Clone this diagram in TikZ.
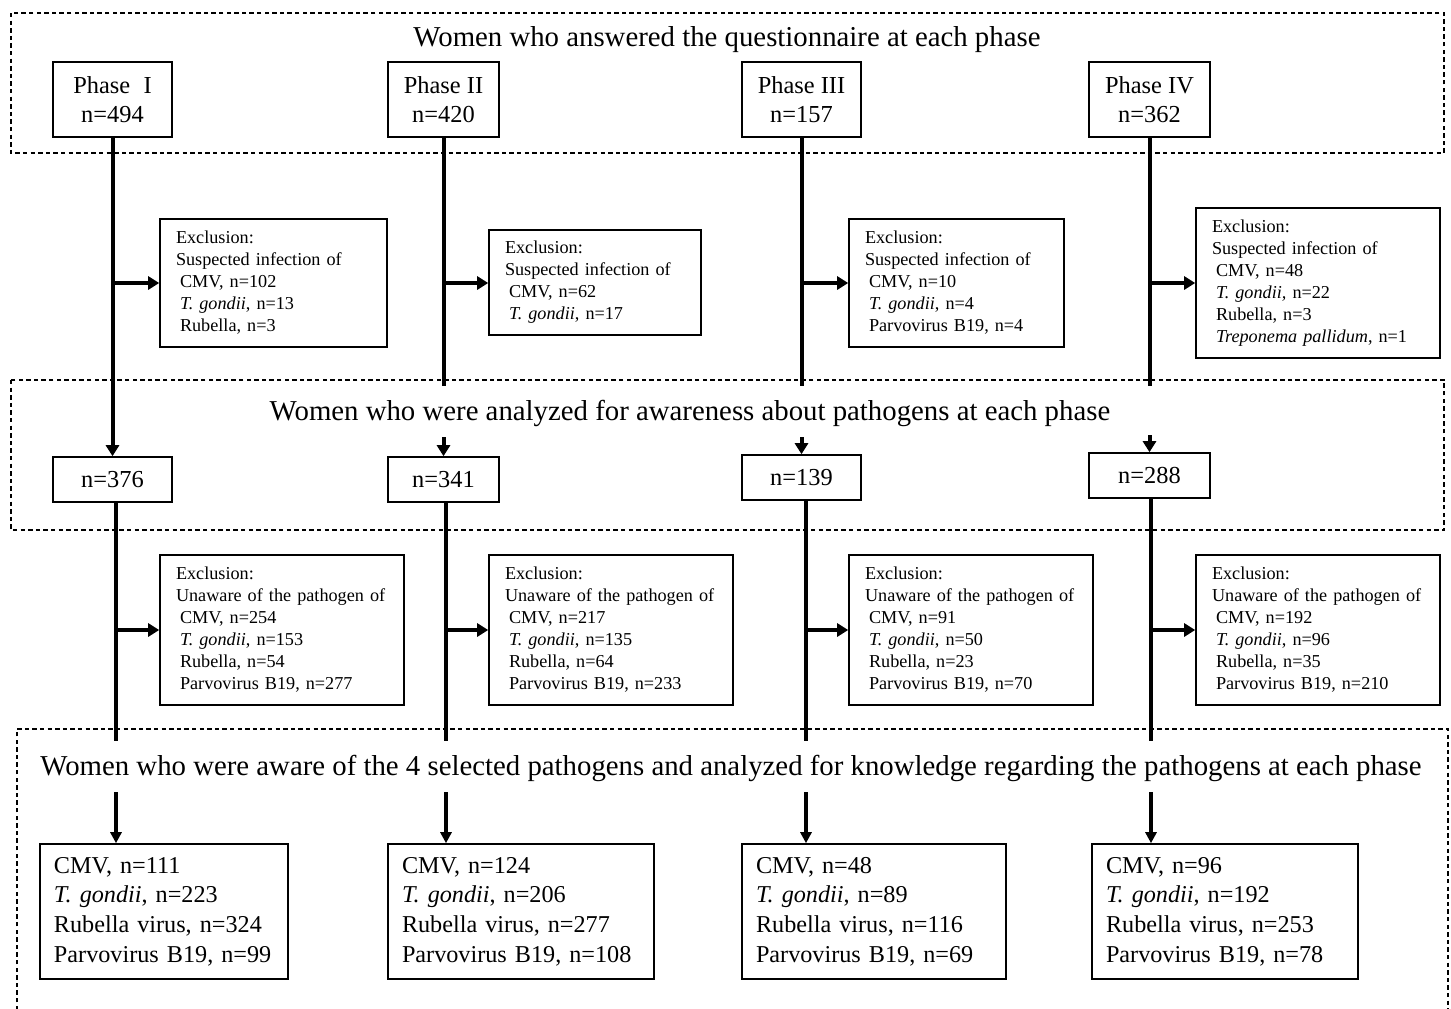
\documentclass[tikz,border=0pt]{standalone}
\usepackage{fontspec}
\setmainfont{Liberation Serif}
\usetikzlibrary{arrows.meta}
\newcommand{\ml}[1]{\mbox{#1}}
\begin{document}
\begin{tikzpicture}[x=0.5pt,y=-0.5pt,
  frame/.style={draw,dash pattern=on 2.2pt off 1.6pt,line width=0.6pt},
  title/.style={font=\fontsize{14.4}{17}\selectfont,inner sep=0pt},
  phasebox/.style={draw,line width=0.8pt,minimum height=37.5pt,align=center,font=\fontsize{12.2}{14.5}\selectfont,inner sep=0pt},
  nbox/.style={draw,line width=0.8pt,minimum height=22.5pt,align=center,font=\fontsize{12.2}{14.5}\selectfont,inner sep=0pt},
  exbox/.style={draw,line width=0.8pt,align=left,font=\fontsize{9.1}{11}\selectfont,inner xsep=8pt,inner ysep=0pt},
  resbox/.style={draw,line width=0.8pt,align=left,font=\fontsize{12.1}{14.8}\selectfont,inner xsep=7pt,inner ysep=0pt,minimum height=67.5pt},
  vline/.style={line width=2pt},
  arr/.style={line width=2pt,-{Triangle[length=5.5pt,width=6.5pt]}},
  arrthin/.style={line width=1.6pt,-{Triangle[length=5.5pt,width=5.5pt]}}
]
\useasboundingbox (0,0) rectangle (1451,1008);

% dashed frames
\draw[frame] (11,13) rectangle (1444,153);
\draw[frame] (11,380) rectangle (1444,530);
\draw[frame] (17,1010) -- (17,729) -- (1448,729) -- (1448,1010);

% titles
\node[title] (t1) at (727,40) {Women who answered the questionnaire at each phase};
\node[title] (t2) at (690,413) {Women who were analyzed for awareness about pathogens at each phase};
\node[title] (t3) at (731,768) {Women who were aware of the 4 selected pathogens and analyzed for knowledge regarding the pathogens at each phase};

% phase boxes
\node[phasebox,minimum width=59.5pt] (p1) at (112.5,99.5) {Phase\hspace{0.55em}I\\n=494};
\node[phasebox,minimum width=55.5pt] (p2) at (443.5,99.5) {Phase II\\n=420};
\node[phasebox,minimum width=59.5pt] (p3) at (801.5,99.5) {Phase III\\n=157};
\node[phasebox,minimum width=60.5pt] (p4) at (1149.5,99.5) {Phase IV\\n=362};

% exclusion boxes row 1
\node[exbox,text width=97.5pt,minimum height=64pt] (e1) at (273.5,283) {\ml{Exclusion:}\\\ml{Suspected infection of}\\\ml{\hspace*{2pt}CMV, n=102}\\\ml{\hspace*{2pt}\textit{T. gondii}, n=13}\\\ml{\hspace*{2pt}Rubella, n=3}};
\node[exbox,text width=90pt,minimum height=52.5pt] (e2) at (595,282.5) {\ml{Exclusion:}\\\ml{Suspected infection of}\\\ml{\hspace*{2pt}CMV, n=62}\\\ml{\hspace*{2pt}\textit{T. gondii}, n=17}};
\node[exbox,text width=91.5pt,minimum height=64pt] (e3) at (956.5,283) {\ml{Exclusion:}\\\ml{Suspected infection of}\\\ml{\hspace*{2pt}CMV, n=10}\\\ml{\hspace*{2pt}\textit{T. gondii}, n=4}\\\ml{\hspace*{2pt}Parvovirus B19, n=4}};
\node[exbox,text width=106pt,minimum height=75pt] (e4) at (1318,283) {\ml{Exclusion:}\\\ml{Suspected infection of}\\\ml{\hspace*{2pt}CMV, n=48}\\\ml{\hspace*{2pt}\textit{T. gondii,} n=22}\\\ml{\hspace*{2pt}Rubella, n=3}\\\ml{\hspace*{2pt}\textit{Treponema pallidum}, n=1}};

% n boxes row 2
\node[nbox,minimum width=59.5pt] (n1) at (112.5,479.5) {n=376};
\node[nbox,minimum width=55.5pt] (n2) at (443.5,479.5) {n=341};
\node[nbox,minimum width=59.5pt] (n3) at (801.5,477.5) {n=139};
\node[nbox,minimum width=60.5pt] (n4) at (1149.5,475.5) {n=288};

% exclusion boxes row 2
\node[exbox,text width=106pt,minimum height=75pt] (e5) at (282,630) {\ml{Exclusion:}\\\ml{Unaware of the pathogen of}\\\ml{\hspace*{2pt}CMV, n=254}\\\ml{\hspace*{2pt}\textit{T. gondii}, n=153}\\\ml{\hspace*{2pt}Rubella, n=54}\\\ml{\hspace*{2pt}Parvovirus B19, n=277}};
\node[exbox,text width=106pt,minimum height=75pt] (e6) at (611,630) {\ml{Exclusion:}\\\ml{Unaware of the pathogen of}\\\ml{\hspace*{2pt}CMV, n=217}\\\ml{\hspace*{2pt}\textit{T. gondii}, n=135}\\\ml{\hspace*{2pt}Rubella, n=64}\\\ml{\hspace*{2pt}Parvovirus B19, n=233}};
\node[exbox,text width=106pt,minimum height=75pt] (e7) at (971,630) {\ml{Exclusion:}\\\ml{Unaware of the pathogen of}\\\ml{\hspace*{2pt}CMV, n=91}\\\ml{\hspace*{2pt}\textit{T. gondii}, n=50}\\\ml{\hspace*{2pt}Rubella, n=23}\\\ml{\hspace*{2pt}Parvovirus B19, n=70}};
\node[exbox,text width=106pt,minimum height=75pt] (e8) at (1318,630) {\ml{Exclusion:}\\\ml{Unaware of the pathogen of}\\\ml{\hspace*{2pt}CMV, n=192}\\\ml{\hspace*{2pt}\textit{T. gondii}, n=96}\\\ml{\hspace*{2pt}Rubella, n=35}\\\ml{\hspace*{2pt}Parvovirus B19, n=210}};

% result boxes
\node[resbox,text width=110pt] (b1) at (164,911.5) {\ml{CMV, n=111}\\\ml{\textit{T. gondii}, n=223}\\\ml{Rubella virus, n=324}\\\ml{Parvovirus B19, n=99}};
\node[resbox,text width=119pt] (b2) at (521,911.5) {\ml{CMV, n=124}\\\ml{\textit{T. gondii}, n=206}\\\ml{Rubella virus, n=277}\\\ml{Parvovirus B19, n=108}};
\node[resbox,text width=118pt] (b3) at (874,911.5) {\ml{CMV, n=48}\\\ml{\textit{T. gondii}, n=89}\\\ml{Rubella virus, n=116}\\\ml{Parvovirus B19, n=69}};
\node[resbox,text width=119pt] (b4) at (1225,911.5) {\ml{CMV, n=96}\\\ml{\textit{T. gondii}, n=192}\\\ml{Rubella virus, n=253}\\\ml{Parvovirus B19, n=78}};

% coordinates for free ends
\coordinate (q2) at (443.5,386);
\coordinate (q3) at (801.5,386);
\coordinate (q4) at (1149.5,386);
\coordinate (r2) at (443.5,437);
\coordinate (r3) at (801.5,437);
\coordinate (r4) at (1149.5,435);
\coordinate (m1) at (116,741);
\coordinate (m2) at (446,741);
\coordinate (m3) at (806,741);
\coordinate (m4) at (1151,741);
\coordinate (s1) at (116,792);
\coordinate (s2) at (446,792);
\coordinate (s3) at (806,792);
\coordinate (s4) at (1151,792);

% phase to n connectors
\draw[arr] (p1.south) -- (n1.north);
\draw[vline] (p2.south) -- (q2);
\draw[vline] (p3.south) -- (q3);
\draw[vline] (p4.south) -- (q4);
\draw[arr] (r2) -- (n2.north);
\draw[arr] (r3) -- (n3.north);
\draw[arr] (r4) -- (n4.north);

% exclusion arrows row 1
\draw[arr] (p1.south |- e1.west) -- (e1.west);
\draw[arr] (p2.south |- e1.west) -- (e2.west |- e1.west);
\draw[arr] (p3.south |- e3.west) -- (e3.west);
\draw[arr] (p4.south |- e4.west) -- (e4.west);

% n to bottom
\draw[vline] (n1.south -| m1) -- (m1);
\draw[vline] (n2.south -| m2) -- (m2);
\draw[vline] (n3.south -| m3) -- (m3);
\draw[vline] (n4.south -| m4) -- (m4);

% exclusion arrows row 2
\draw[arr] (m1 |- e5.west) -- (e5.west);
\draw[arr] (m2 |- e6.west) -- (e6.west);
\draw[arr] (m3 |- e7.west) -- (e7.west);
\draw[arr] (m4 |- e8.west) -- (e8.west);

% arrows to result boxes
\draw[arrthin] (s1) -- (s1 |- b1.north);
\draw[arrthin] (s2) -- (s2 |- b2.north);
\draw[arrthin] (s3) -- (s3 |- b3.north);
\draw[arrthin] (s4) -- (s4 |- b4.north);
\end{tikzpicture}
\end{document}
